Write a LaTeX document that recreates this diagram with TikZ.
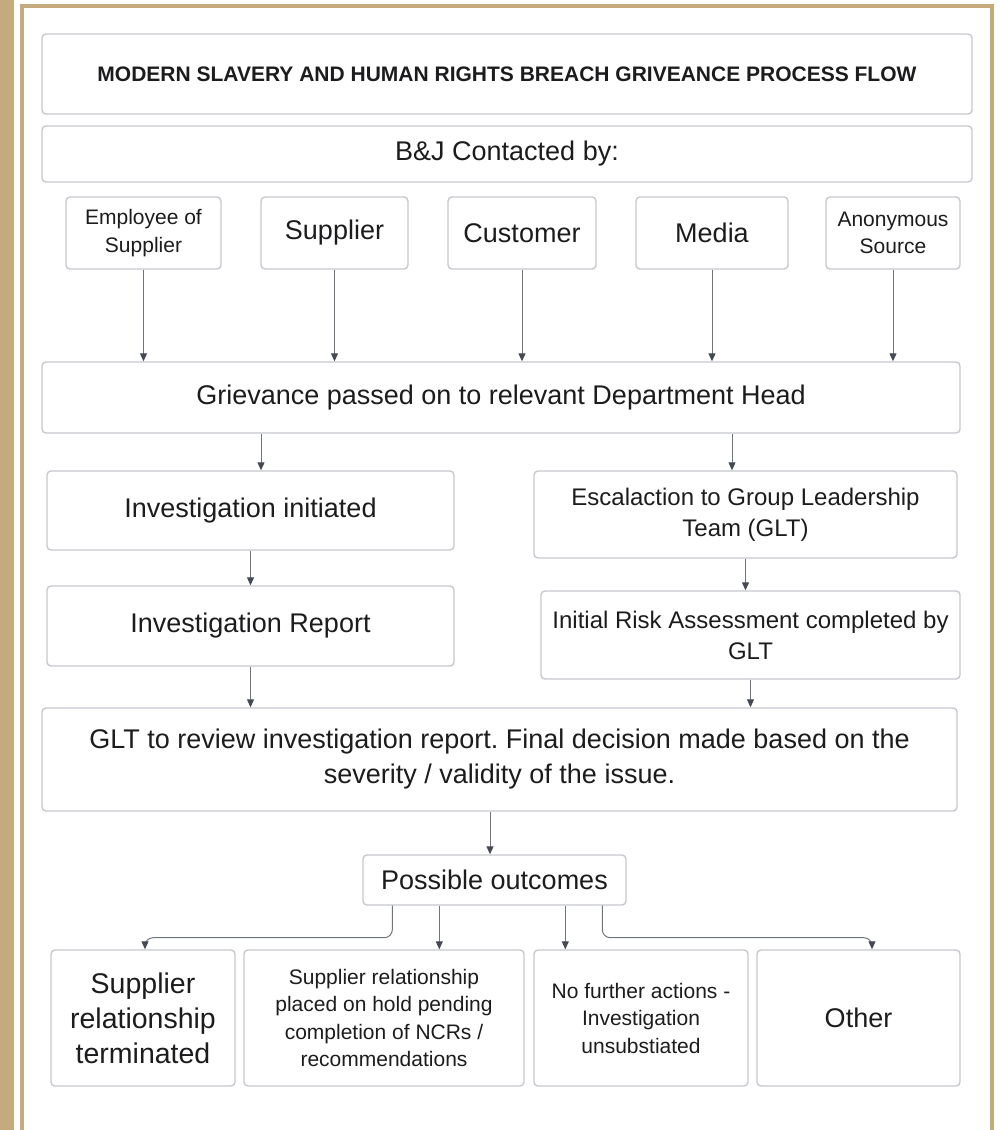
\documentclass[tikz,border=0pt]{standalone}
\usepackage{fontspec}
\setmainfont{Liberation Sans}
\frenchspacing
\usepackage{tikz}
\usetikzlibrary{arrows.meta,calc}

\definecolor{frametan}{RGB}{196,170,124}
\definecolor{boxgray}{RGB}{198,200,205}
\definecolor{linegray}{RGB}{112,116,124}
\definecolor{tipgray}{RGB}{68,73,84}
\definecolor{textgray}{RGB}{28,28,30}

\begin{document}
\begin{tikzpicture}[x=1pt, y=-1pt, >={Triangle[length=8pt, width=7pt, color=tipgray]},
							every node/.style={align=center, inner sep=0pt, text=textgray},
							box/.style={draw=boxgray, line width=1.4pt, rounded corners=4pt},
							big/.style={font=\fontsize{27}{35}\selectfont},
							mid/.style={font=\fontsize{24}{31}\selectfont},
							small/.style={font=\fontsize{21}{27.5}\selectfont},
							post/.style={->, draw=linegray, line width=1pt}]

			\useasboundingbox (0,0) rectangle (999,1130);
			\fill[frametan] (0,0) rectangle (14,1130);
			\draw[frametan, line width=4pt] (22,1130) -- (22,5.5) -- (992,5.5) -- (992,1130);

			\node [box, minimum width=930, minimum height=80] (T) at (507,74)
				{\fontsize{21}{25}\selectfont\bfseries MODERN SLAVERY AND HUMAN RIGHTS BREACH GRIVEANCE PROCESS FLOW};

			\node [box, big, minimum width=930, minimum height=56] (BJ) at (507,154) {B\&J Contacted by:};

			\node [box, small, minimum width=155, minimum height=72] (E) at (143.5,233) {Employee of\\Supplier};

			\node [box, big, minimum width=147, minimum height=72] (S) at (334.5,233) {Supplier};

			\node [box, big, minimum width=148, minimum height=72] (C) at (522,233) {Customer};

			\node [box, big, minimum width=152, minimum height=72] (M) at (712,233) {Media};

			\node [box, small, minimum width=134, minimum height=72] (A) at (893,233) {Anonymous\\Source};

			\node [box, big, minimum width=918, minimum height=71] (G) at (501,397.5)
				{Grievance passed on to relevant Department Head};

			\node [box, big, minimum width=407, minimum height=79] (II) at (250.5,510.5) {Investigation initiated};

			\node [box, mid, minimum width=423, minimum height=87] (ESC) at (745.5,514.5)
				{Escalaction to Group Leadership\\Team (GLT)};

			\node [box, big, minimum width=407, minimum height=80] (IR) at (250.5,626) {Investigation Report};

			\node [box, mid, minimum width=419, minimum height=88] (RA) at (750.5,635)
				{Initial Risk Assessment completed by\\GLT};

			\node [box, big, minimum width=915, minimum height=103] (REV) at (499.5,759.5)
				{GLT to review investigation report. Final decision made based on the\\severity / validity of the issue.};

			\node [box, big, minimum width=263, minimum height=50] (PO) at (494.5,880) {Possible outcomes};

			\node [box, font=\fontsize{28.5}{35}\selectfont, minimum width=184, minimum height=136] (O1) at (143,1018)
				{Supplier\\relationship\\terminated};

			\node [box, small, minimum width=280, minimum height=136] (O2) at (384,1018)
				{Supplier relationship\\placed on hold pending\\completion of NCRs /\\recommendations};

			\node [box, small, minimum width=214, minimum height=136] (O3) at (641,1018)
				{No further actions -\\Investigation\\unsubstiated};

			\node [box, big, minimum width=203, minimum height=136] (O4) at (858.5,1018) {Other};

			\foreach \n in {E,S,C,M,A}
				\draw[post] (\n.south) -- (\n.south |- G.north);

			\draw[post] ([xshift=10.5]II.north |- G.south) -- ([xshift=10.5]II.north);
			\draw[post] ([xshift=-13.5]ESC.north |- G.south) -- ([xshift=-13.5]ESC.north);

			\draw[post] (II) -- (IR);
			\draw[post] (ESC.south) -- (ESC.south |- RA.north);

			\draw[post] (IR.south) -- (IR.south |- REV.north);
			\draw[post] (RA.south) -- (RA.south |- REV.north);

			\draw[post] ([xshift=-4.5]PO.north |- REV.south) -- ([xshift=-4.5]PO.north);

			\coordinate (PO1) at ($(PO.south west)+(30,0)$);
			\coordinate (PO2) at ($(PO.south west)+(77,0)$);
			\coordinate (PO3) at ($(PO.south west)+(203,0)$);
			\coordinate (PO4) at ($(PO.south west)+(240,0)$);

			\draw[post, rounded corners=8pt] (PO1) -- ++(0,32) -| ([xshift=2]O1.north);
			\draw[post] (PO2) -- (PO2 |- O2.north);
			\draw[post] (PO3) -- (PO3 |- O3.north);
			\draw[post, rounded corners=8pt] (PO4) -- ++(0,32) -| ([xshift=13.5]O4.north);

		\end{tikzpicture}
\end{document}
